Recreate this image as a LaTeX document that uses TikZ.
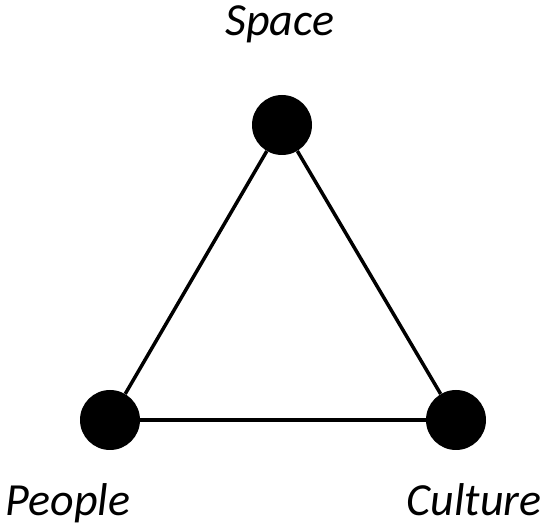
\documentclass[tikz,border=0pt]{standalone}
\usepackage{fontspec}
\setmainfont{Carlito}
\usetikzlibrary{positioning}

\begin{document}
\begin{tikzpicture}[
  x=1pt, y=-1pt,
  vertex/.style={circle, fill=black, inner sep=0pt, minimum size=60pt},
  edge/.style={line width=3.5pt, color=black},
  caption/.style={font=\fontsize{46}{52}\selectfont\itshape, inner sep=0pt, anchor=base},
]
  \useasboundingbox (0,0) rectangle (547,529);

  % vertices
  \node[vertex] (space) at (282,125) {};
  \node[vertex] (people) at (110,420) {};
  \node[vertex] (culture) at (456,420) {};

  % edges
  \draw[edge] (space) -- (people);
  \draw[edge] (people) -- (culture);
  \draw[edge] (culture) -- (space);

  % labels
  \node[caption] (lspace) at (280,36) {Space};
  \node[caption] (lpeople) at (68,516) {People};
  \node[caption] (lculture) at (474,516) {Culture};
\end{tikzpicture}
\end{document}
